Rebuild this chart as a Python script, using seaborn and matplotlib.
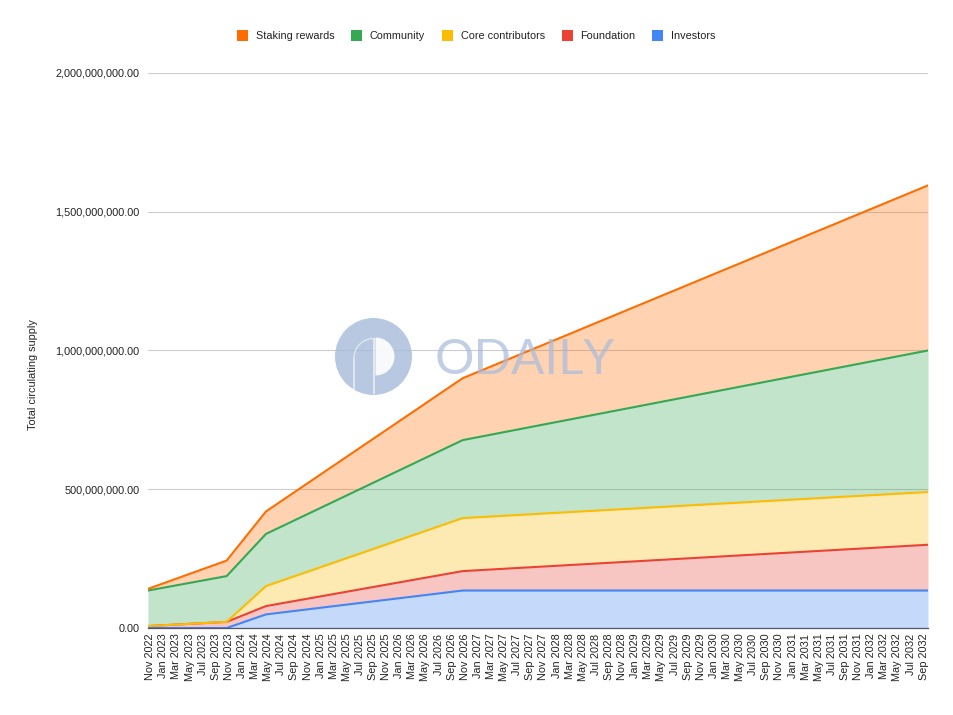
import numpy as np
import pandas as pd
import matplotlib
matplotlib.use("Agg")
import matplotlib.pyplot as plt
from matplotlib.patches import Patch, Circle, Wedge, Arc, Rectangle
from matplotlib.ticker import FuncFormatter
from matplotlib.transforms import ScaledTranslation
import seaborn as sns

# Vertex dates of the schedule
dates = ["2022-11", "2023-11", "2024-05", "2026-11", "2032-10"]
# Stacked amounts per group, millions of tokens
investors = [0, 0, 49, 135, 135]
foundation = [7, 22, 30, 70, 165]
core = [0, 0, 72, 191, 190]
community = [128, 165, 188, 281, 510]
staking = [6, 56, 81, 223, 595]

names = ["Investors", "Foundation", "Core contributors", "Community", "Staking rewards"]
series = [investors, foundation, core, community, staking]
colors = ["#4285F4", "#EA4335", "#FBBC04", "#34A853", "#FF6D01"]
y_ticks = [0, 500e6, 1000e6, 1500e6, 2000e6]

W, H = 954, 715
sns.set_theme(style="white")
plt.rcParams["font.family"] = ["Liberation Sans", "DejaVu Sans"]
fig = plt.figure(figsize=(W / 100, H / 100), dpi=100)
ax = fig.add_axes([148 / W, 1 - 628 / H, (928 - 148) / W, (628 - 73) / H])

t = pd.to_datetime(dates)
months = (t.year - t.year[0]) * 12 + t.month - t.month[0]
tick_dates = pd.date_range(t[0], t[-1], freq="2MS")
tick_pos = (tick_dates.year - t.year[0]) * 12 + tick_dates.month - t.month[0]

tops = np.cumsum(np.array(series, dtype=float) * 1e6, axis=0)
bottoms = np.vstack([np.zeros(len(dates)), tops[:-1]])
frame = pd.DataFrame({
    "month": np.tile(months, len(names)),
    "total": tops.ravel(),
    "group": np.repeat(names, len(dates)),
})

for top, bottom, color in zip(tops, bottoms, colors):
    ax.fill_between(months, bottom, top, color=color, alpha=0.3, lw=0, zorder=2)
sns.lineplot(data=frame, x="month", y="total", hue="group", hue_order=names,
             palette=colors, linewidth=1.5, legend=False, ax=ax, zorder=3,
             estimator=None, sort=False)

ax.set_xlim(0, months[-1])
ax.set_ylim(0, 2000e6)
ax.set_yticks(y_ticks)
ax.yaxis.set_major_formatter(FuncFormatter(lambda v, _: f"{v:,.2f}"))
ax.set_xticks(tick_pos)
ax.set_xticklabels(tick_dates.strftime("%b %Y"), rotation=90, ha="center", va="top")
ax.tick_params(axis="both", length=0, labelsize=7.8, colors="#222222")
ax.tick_params(axis="y", pad=6)
ax.tick_params(axis="x", pad=4)
nudge = ScaledTranslation(2.2 / 100, 0, fig.dpi_scale_trans)
for lab in ax.get_xticklabels():
    lab.set_transform(lab.get_transform() + nudge)
ax.grid(axis="y", color="#CCCCCC", lw=0.8, zorder=1)
ax.set_axisbelow(True)
for s in ["top", "right", "left"]:
    ax.spines[s].set_visible(False)
ax.spines["bottom"].set_color("#555566")
ax.spines["bottom"].set_linewidth(0.9)
ax.spines["bottom"].set_zorder(5)
ax.set_xlabel("")
ax.set_ylabel("")
fig.text(33 / W, 1 - 375 / H, "Total circulating supply", rotation=90,
         ha="center", va="center", fontsize=7.8, color="#222222")

handles = [Patch(facecolor=c, edgecolor="none", label=n)
           for n, c in zip(names[::-1], colors[::-1])]
fig.legend(handles=handles, loc="center", bbox_to_anchor=(476.2 / W, 1 - 35.5 / H),
           ncol=5, frameon=False, fontsize=7.8, handlelength=1.0, handleheight=1.15,
           handletextpad=0.72, columnspacing=1.56, labelcolor="#222222",
           borderpad=0, borderaxespad=0)

# Watermark drawn above the chart, in pixel coordinates
ov = fig.add_axes([0, 0, 1, 1], zorder=10)
ov.set_xlim(0, W)
ov.set_ylim(H, 0)
ov.axis("off")
ov.patch.set_alpha(0)
mark = "#A9BCDA"
ov.add_patch(Circle((373.5, 356.5), 38.5, fc=mark, ec="none", alpha=0.82))
ov.add_patch(Wedge((375.5, 356.5), 19, -90, 90, fc="white", ec="none", alpha=0.9))
ov.add_patch(Rectangle((373.3, 337.5), 1.6, 56, fc="white", ec="none", alpha=0.6))
ov.add_patch(Arc((373.5, 358), 39, 39, theta1=180, theta2=270, ec="white", lw=1.0, alpha=0.55))
ov.add_patch(Rectangle((353.5, 358), 1.3, 32, fc="white", ec="none", alpha=0.55))
ov.text(525, 356.5, "ODAILY", ha="center", va="center_baseline", fontsize=35.5,
        color=mark, alpha=0.72, family=["Lato", "DejaVu Sans"], fontweight="normal")

fig.savefig("out.png", dpi=100)
